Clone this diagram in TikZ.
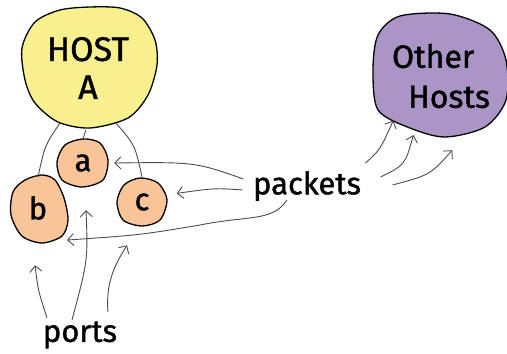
\documentclass[tikz,border=0pt]{standalone}
\usepackage{fontspec}
\setmainfont{Fira Sans}[FakeBold=1.2]
\usetikzlibrary{arrows.meta}

\definecolor{hostyellow}{HTML}{F8F08E}
\definecolor{portorange}{HTML}{F8C498}
\definecolor{otherpurple}{HTML}{AB95C7}

\begin{document}
\begin{tikzpicture}[x=1pt,y=-1pt,
  blob/.style={draw=black, line width=1.3pt},
  link/.style={draw=black!70, line width=0.9pt},
  arr/.style={-{Straight Barb[length=6pt,width=12pt]}, black!70, line width=0.9pt},
  lab/.style={font=\fontsize{31}{36}\selectfont},
  anc/.style={circle, inner sep=0pt, draw=none}]
\useasboundingbox (0,0) rectangle (507,354);
% ---- blobs ----
\draw[blob, fill=hostyellow] plot[smooth cycle] coordinates {(90,7) (120,8) (142,18)
  (155,40) (157,65) (148,95) (128,118) (90,128) (58,122) (35,103) (25,80) (22,48)
  (35,22) (60,10)};
\draw[blob, fill=otherpurple] plot[smooth cycle] coordinates {(378,35) (400,16)
  (450,14) (490,30) (506,60) (506,100) (485,127) (445,137) (410,128) (378,110) (373,70)};
\draw[blob, fill=portorange] plot[smooth cycle] coordinates {(83,139) (100,143)
  (108,160) (103,180) (82,187) (62,180) (57,162) (65,145)};
\draw[blob, fill=portorange] plot[smooth cycle] coordinates {(42,175) (55,180)
  (64,198) (68,220) (62,236) (42,243) (22,236) (11,215) (13,192) (25,180)};
\draw[blob, fill=portorange] plot[smooth cycle] coordinates {(140,178) (158,183)
  (167,200) (160,220) (142,226) (123,220) (117,202) (124,185)};
% ---- texts ----
\node[anc, minimum size=124pt, align=center, font=\fontsize{34}{38}\selectfont]
  (hostA) at (88,68) {HOST\\A};
\node[anc, minimum size=130pt, align=left, font=\fontsize{32}{40}\selectfont]
  (others) at (441,76) {Other\\\hspace*{16pt}Hosts};
\node[anc, minimum size=48pt, lab] (portA) at (83,163) {a};
\node[anc, minimum size=62pt, lab] (portB) at (38,208) {b};
\node[anc, minimum size=50pt, lab] (portC) at (142,202) {c};
\node[lab] (packets) at (307,186) {packets};
\node[lab] (ports) at (80,335) {ports};
% ---- host to ports ----
\draw[link] (hostA.-92) -- (portA.north);
\draw[link] (hostA.-117) .. controls (45,145) .. (portB.north);
\draw[link] (hostA.-63) .. controls (135,145) .. (portC.north);
% ---- packets ----
\draw[arr] ([shift={(-6,-7)}]packets.west) .. controls (195,162) .. ([xshift=7pt]portA.east);
\draw[arr] ([shift={(-7,4)}]packets.west) .. controls (215,188) .. ([xshift=11pt]portC.20);
\draw[arr] ([shift={(-20,14)}]packets.center) .. controls (272,222) and (250,215)
  .. (200,225) .. controls (140,235) .. ([shift={(7,10)}]portB.-45);
\draw[arr] ([shift={(1,-23)}]packets.east) .. controls (380,150) .. (others.223);
\draw[arr] ([shift={(16,-9)}]packets.east) .. controls (405,165) .. (others.245);
\draw[arr] ([shift={(28,-1)}]packets.east) .. controls (430,175) .. ([shift={(0,10)}]others.280);
% ---- ports ----
\draw[arr] ([shift={(-33,-17)}]ports.center) .. controls (38,290) .. ([shift={(-3,26)}]portB.south);
\draw[arr] ([shift={(-8,-15)}]ports.center) .. controls (88,260) .. ([shift={(3,23)}]portA.south);
\draw[arr] ([shift={(28,-23)}]ports.center) .. controls (105,280) and (118,260)
  .. ([shift={(-15,18)}]portC.south);
\end{tikzpicture}
\end{document}
